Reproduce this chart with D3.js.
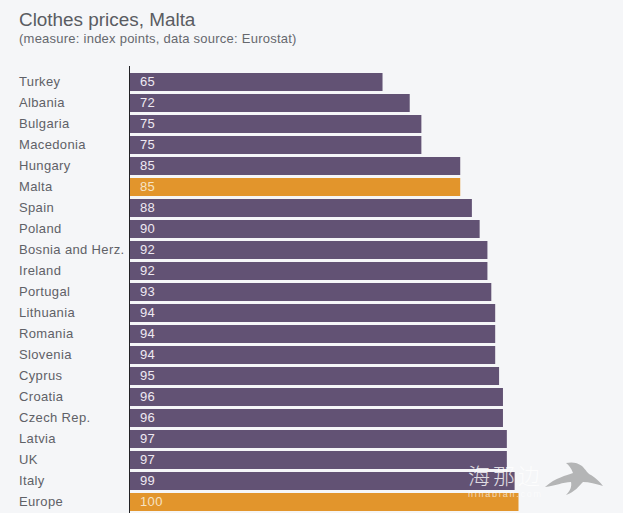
<!DOCTYPE html>
<html>
<head>
<meta charset="utf-8">
<script src="https://cdn.jsdelivr.net/npm/d3@7"></script>
<style>
  html, body { margin: 0; padding: 0; background: #f5f6f8; overflow: hidden; }
  text { font-family: "Liberation Sans", Arial, sans-serif; }
</style>
</head>
<body>
<div id="chart"></div>
<script>
const countries = ["Turkey", "Albania", "Bulgaria", "Macedonia", "Hungary", "Malta", "Spain", "Poland",
    "Bosnia and Herz.", "Ireland", "Portugal", "Lithuania", "Romania", "Slovenia", "Cyprus", "Croatia",
    "Czech Rep.", "Latvia", "UK", "Italy", "Europe"];
const prices = [65, 72, 75, 75, 85, 85, 88, 90, 92, 92, 93, 94, 94, 94, 95, 96, 96, 97, 97, 99, 100];
const highlighted = ["Malta", "Europe"];

const width = 623, height = 513;

const svg = d3.select("#chart")
    .append("svg")
    .attr("width", width)
    .attr("height", height)
    .style("display", "block");

const x = d3.scaleLinear().domain([0, 100]).range([130, 518.5]);
const y = d3.scaleBand().domain(countries).range([73, 511]).paddingInner(3 / 21).paddingOuter(0);

// Title
svg.append("text").attr("x", 19).attr("y", 26)
    .style("font-size", "18.9px").attr("fill", "#5a5c62").text("Clothes prices, Malta");
svg.append("text").attr("x", 19).attr("y", 43)
    .style("font-size", "13px").style("letter-spacing", "0.24px")
    .attr("fill", "#66686e").text("(measure: index points, data source: Eurostat)");

// Bars
svg.append("g").selectAll("rect")
    .data(countries)
    .enter()
    .append("rect")
    .attr("x", x(0))
    .attr("y", d => y(d))
    .attr("width", (d, i) => x(prices[i]) - x(0))
    .attr("height", y.bandwidth())
    .attr("fill", d => highlighted.includes(d) ? "#e2952c" : "#625274");

// Country labels
svg.append("g").selectAll("text")
    .data(countries)
    .enter()
    .append("text")
    .attr("x", 19)
    .attr("y", d => y(d) + y.bandwidth() / 2 + 3.6)
    .style("font-size", "13px")
    .style("letter-spacing", "0.36px")
    .attr("fill", "#5f6167")
    .text(d => d);

// Value labels
svg.append("g").selectAll("text")
    .data(countries)
    .enter()
    .append("text")
    .attr("x", x(0) + 10)
    .attr("y", d => y(d) + y.bandwidth() / 2 + 3.6)
    .style("font-size", "13px")
    .style("letter-spacing", "0.36px")
    .attr("fill", d => highlighted.includes(d) ? "#f6e3c4" : "#eee9f2")
    .text((d, i) => prices[i]);

// Vertical axis line
svg.append("line")
    .attr("x1", 129.5).attr("x2", 129.5)
    .attr("y1", 66).attr("y2", height)
    .attr("stroke", "#222226").attr("stroke-width", 1);

// Watermark
const mark = svg.append("g").attr("pointer-events", "none");
mark.append("text").attr("x", 468).attr("y", 484)
    .style("font-family", '"Noto Sans CJK SC", sans-serif').style("font-size", "22px").style("font-weight", 300)
    .attr("fill", "#ffffff").attr("opacity", 0.8).attr("textLength", 72).text("海那边");
mark.append("text").attr("x", 468).attr("y", 497)
    .style("font-size", "9px").attr("fill", "#ffffff").attr("opacity", 0.65)
    .attr("textLength", 73).text("hinabian.com");
mark.append("path")
    .attr("d", "M545,487 C556,477 566,476 573,473 C571,468 569,465 566,463 C571,462 577,462 582,466 C586,470 588,474 591,475 C596,478 600,482 603,486 C596,484 589,482 583,482 C579,486 575,492 566,495 C570,491 572,487 571,482 C563,482 555,486 545,487 Z")
    .attr("fill", "#b4b5b6");
</script>
</body>
</html>
